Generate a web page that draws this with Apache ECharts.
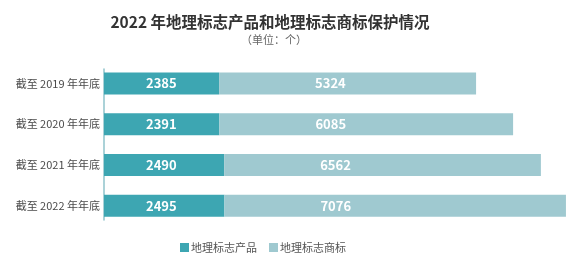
<!DOCTYPE html>
<html>
<head>
<meta charset="utf-8">
<script src="https://cdn.jsdelivr.net/npm/echarts@6/dist/echarts.min.js"></script>
<style>
html,body{margin:0;padding:0;background:#fff;}
#chart{width:581px;height:267px;}
</style>
</head>
<body>
<div id="chart"></div>
<script>
const categories = ['截至 2019 年年底', '截至 2020 年年底', '截至 2021 年年底', '截至 2022 年年底'];
const productValues = [2385, 2391, 2490, 2495];
const trademarkValues = [5324, 6085, 6562, 7076];
const seriesNames = ['地理标志产品', '地理标志商标'];
const titleText = '2022 年地理标志产品和地理标志商标保护情况';
const subtitleText = '（单位：个）';

const FONT = '"Noto Sans CJK SC", "Noto Sans", sans-serif';
const DARK = '#3da6b2';
const LIGHT = '#9fc9d0';

const chart = echarts.init(document.getElementById('chart'), null, {renderer: 'canvas'});
chart.setOption({
  animation: false,
  textStyle: {fontFamily: FONT},
  title: [
    {
      text: titleText,
      left: 265,
      textAlign: 'center',
      top: 9,
      textStyle: {fontSize: 15.5, fontWeight: 'bold', color: '#333', fontFamily: FONT}
    },
    {
      text: subtitleText,
      left: 269,
      textAlign: 'center',
      top: 29,
      textStyle: {fontSize: 11, fontWeight: 'normal', color: '#666', fontFamily: FONT}
    }
  ],
  legend: {
    data: seriesNames,
    left: 175,
    top: 237,
    icon: 'rect',
    itemWidth: 9,
    itemHeight: 9,
    itemGap: 12,
    textStyle: {fontSize: 11, color: '#555', fontFamily: FONT, padding: [0, 0, 0, -3]}
  },
  grid: [
    {left: 104, right: 4, top: 63, bottom: 41, containLabel: false},
    {left: 104, width: 10, top: 69, bottom: 47, containLabel: false}
  ],
  xAxis: [
    {type: 'value', gridIndex: 0, min: 0, max: 9800, show: false},
    {type: 'value', gridIndex: 1, show: false}
  ],
  yAxis: [
    {
      type: 'category', gridIndex: 0, data: categories, inverse: true,
      axisLine: {show: false}, axisTick: {show: false},
      axisLabel: {fontSize: 11, color: '#4a4a4a', margin: 4, fontFamily: FONT}
    },
    {
      type: 'category', gridIndex: 1, data: categories, inverse: true,
      axisLine: {show: true, lineStyle: {color: '#8fc3cb', width: 1.5}},
      axisTick: {show: false}, axisLabel: {show: false}
    }
  ],
  series: [
    {
      name: seriesNames[0], type: 'bar', stack: 'total', data: productValues,
      xAxisIndex: 0, yAxisIndex: 0,
      barWidth: 22,
      itemStyle: {color: DARK},
      label: {show: true, position: [42, '50%'], verticalAlign: 'middle', align: 'left',
        color: '#fff', fontSize: 13, fontWeight: 'bold', fontFamily: FONT}
    },
    {
      name: seriesNames[1], type: 'bar', stack: 'total', data: trademarkValues,
      xAxisIndex: 0, yAxisIndex: 0,
      barWidth: 22,
      itemStyle: {color: LIGHT},
      label: {show: true, position: [96, '50%'], verticalAlign: 'middle', align: 'left',
        color: '#fff', fontSize: 13, fontWeight: 'bold', fontFamily: FONT}
    }
  ]
});
</script>
</body>
</html>
